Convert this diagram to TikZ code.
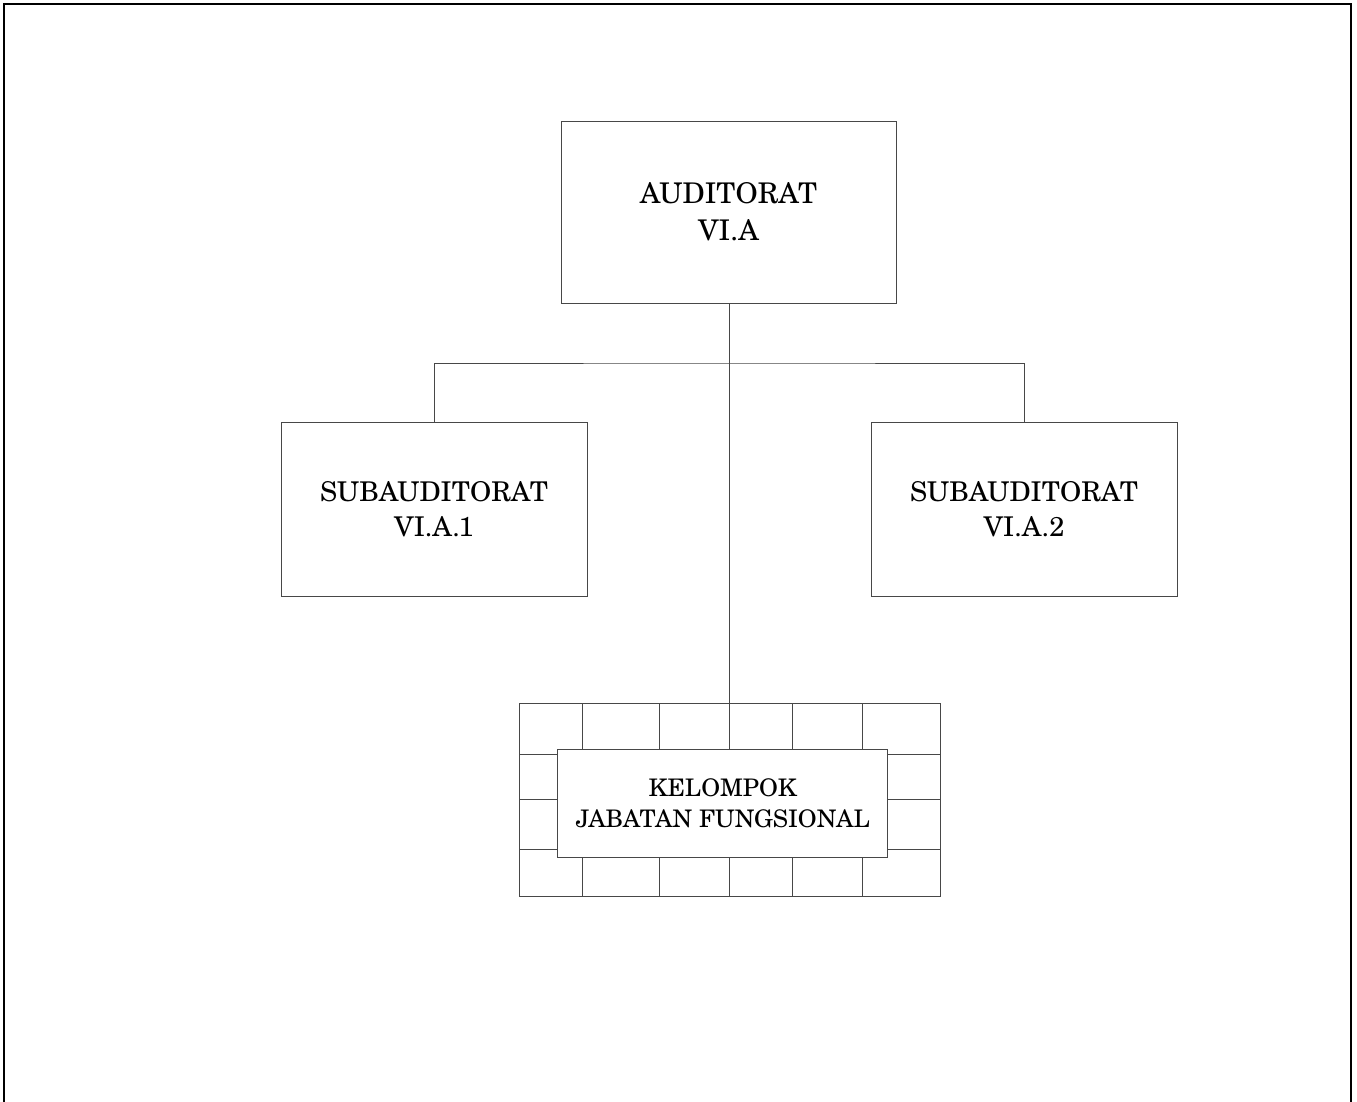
\documentclass[tikz,border=0pt]{standalone}
\usepackage{fontspec}
\setmainfont{TeX Gyre Schola}
\begin{document}
\begin{tikzpicture}[x=1pt,y=-1pt,
  line join=miter,
  unitbox/.style={draw=black!72, line width=0.9pt, rectangle, inner sep=0pt, outer sep=0pt, align=center, fill=white},
  link/.style={draw=black!72, line width=0.9pt},
  gridline/.style={draw=black!72, line width=0.9pt},
  bigtext/.style={font=\fontsize{28.5}{37}\selectfont},
  midtext/.style={font=\fontsize{27.2}{35}\selectfont},
  smalltext/.style={font=\fontsize{24.2}{31}\selectfont}]
\useasboundingbox (0,0) rectangle (1357,1102);
% page frame, open at the bottom
\draw[line width=2pt, black] (4,1102) -- (4,4) -- (1351,4) -- (1351,1102);

% head unit
\node[unitbox, bigtext, minimum width=335pt, minimum height=182pt] (head) at (728.5,212) {AUDITORAT\\VI.A};

% sub units
\node[unitbox, midtext, minimum width=306pt, minimum height=174pt] (subA) at (434,509) {SUBAUDITORAT\\VI.A.1};
\node[unitbox, midtext, minimum width=306pt, minimum height=174pt] (subB) at (1024,509) {SUBAUDITORAT\\VI.A.2};

% functional group: brick frame
\node[draw=black!72, line width=0.9pt, rectangle, inner sep=0pt, outer sep=0pt, minimum width=421pt, minimum height=193pt] (grid) at (729.5,799.7) {};
\foreach \gx in {582.3,659.3,729.3,792.7,862.7}
  \draw[gridline] (\gx,703.3) -- (\gx,896.3);
\foreach \gy in {754,799.3,849.3}
  \draw[gridline] (519,\gy) -- (940,\gy);
\node[unitbox, smalltext, minimum width=330pt, minimum height=108.4pt] (group) at (722.7,803.5) {KELOMPOK\\JABATAN FUNGSIONAL};

% connectors
\coordinate (bus) at (729.3,363);
\draw[link] (head.south -| bus) -- (grid.north -| bus);
\draw[link] (subA.north) |- (bus) -| (subB.north);
\end{tikzpicture}
\end{document}
